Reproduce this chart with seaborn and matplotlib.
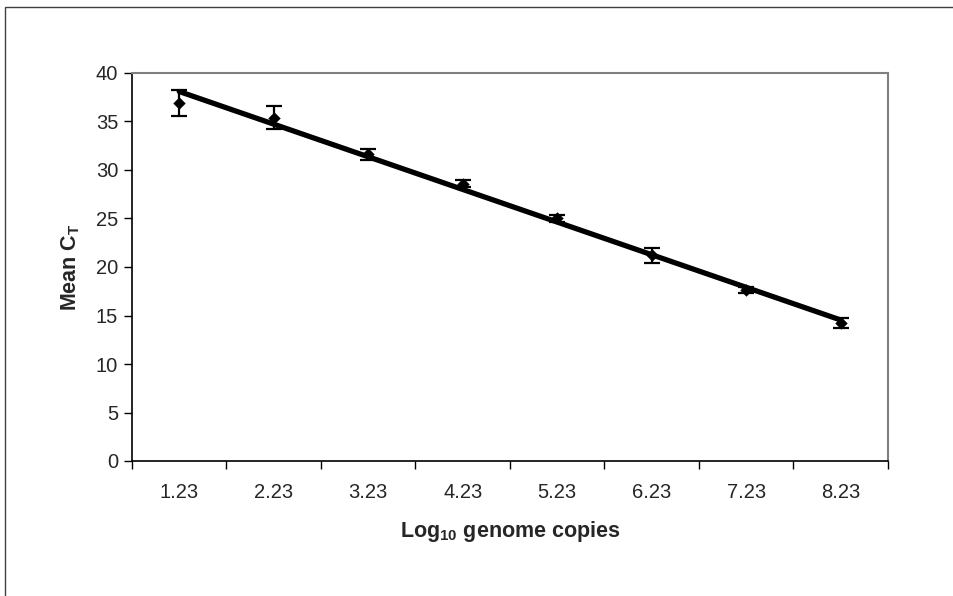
import numpy as np
import pandas as pd
import matplotlib
matplotlib.use("Agg")
import matplotlib.pyplot as plt
import seaborn as sns
from matplotlib.patches import Rectangle

# ---- data ----
categories = ["1.23", "2.23", "3.23", "4.23", "5.23", "6.23", "7.23", "8.23"]
mean_ct = [36.9, 35.4, 31.6, 28.6, 25.0, 21.2, 17.6, 14.2]
err_ct = [1.3, 1.2, 0.6, 0.4, 0.4, 0.75, 0.3, 0.5]
y_ticks = [0, 5, 10, 15, 20, 25, 30, 35, 40]

sns.set_theme(style="white")
plt.rcParams["font.family"] = ["Liberation Sans", "DejaVu Sans"]
plt.rcParams["mathtext.fontset"] = "custom"
plt.rcParams["mathtext.rm"] = "Liberation Sans"
plt.rcParams["mathtext.bf"] = "Liberation Sans:bold"

pos = np.arange(len(categories))
df = pd.DataFrame({"pos": pos, "ct": mean_ct, "err": err_ct})

# linear trendline (Excel-style, on category index 1..n)
slope, intercept = np.polyfit(pos + 1, df["ct"], 1)
df["fit"] = slope * (pos + 1) + intercept

fig = plt.figure(figsize=(9.54, 5.96), dpi=100)
ax = fig.add_axes([132 / 954, 1 - 461 / 596, (888 - 132) / 954, (461 - 73) / 596])

# outer chart frame
fig.patches.append(Rectangle((5 / 954, -0.1), 1.2, 1 - 7 / 596 + 0.1,
                             transform=fig.transFigure, fill=False,
                             edgecolor="#404040", linewidth=1.0, zorder=0))

ax.errorbar(df["pos"], df["ct"], yerr=df["err"], fmt="none", ecolor="black",
            elinewidth=1.6, capsize=6, capthick=1.6, zorder=3)
sns.scatterplot(data=df, x="pos", y="ct", marker="D", color="black", s=40,
                edgecolor="black", linewidth=0, ax=ax, zorder=4)
sns.lineplot(data=df, x="pos", y="fit", color="black", linewidth=3.8, ax=ax, zorder=5)

ax.set_xlim(-0.5, len(categories) - 0.5)
ax.set_ylim(0, 40)
ax.set_yticks(y_ticks)
ax.set_yticklabels([str(v) for v in y_ticks], fontsize=14.5)

ax.set_xticks(np.arange(-0.5, len(categories), 1.0))
ax.set_xticklabels([])
ax.set_xticks(pos, minor=True)
ax.set_xticklabels(categories, minor=True, fontsize=14.5)
ax.tick_params(axis="x", which="major", direction="out", length=6, width=1, color="black", bottom=True)
ax.tick_params(axis="x", which="minor", length=0, pad=16)
ax.tick_params(axis="y", direction="out", length=6, width=1, color="black", left=True, pad=4)

for s in ["top", "right"]:
    ax.spines[s].set_color("#808080")
    ax.spines[s].set_linewidth(1.5)
for s in ["left", "bottom"]:
    ax.spines[s].set_color("black")
    ax.spines[s].set_linewidth(1.2)

ax.set_xlabel(r"Log$_\mathbf{10}$ genome copies", fontsize=15.5, fontweight="bold", labelpad=12)
ax.set_ylabel(r"Mean C$_\mathbf{T}$", fontsize=15.5, fontweight="bold", labelpad=10)

fig.savefig("out.png", dpi=100)
